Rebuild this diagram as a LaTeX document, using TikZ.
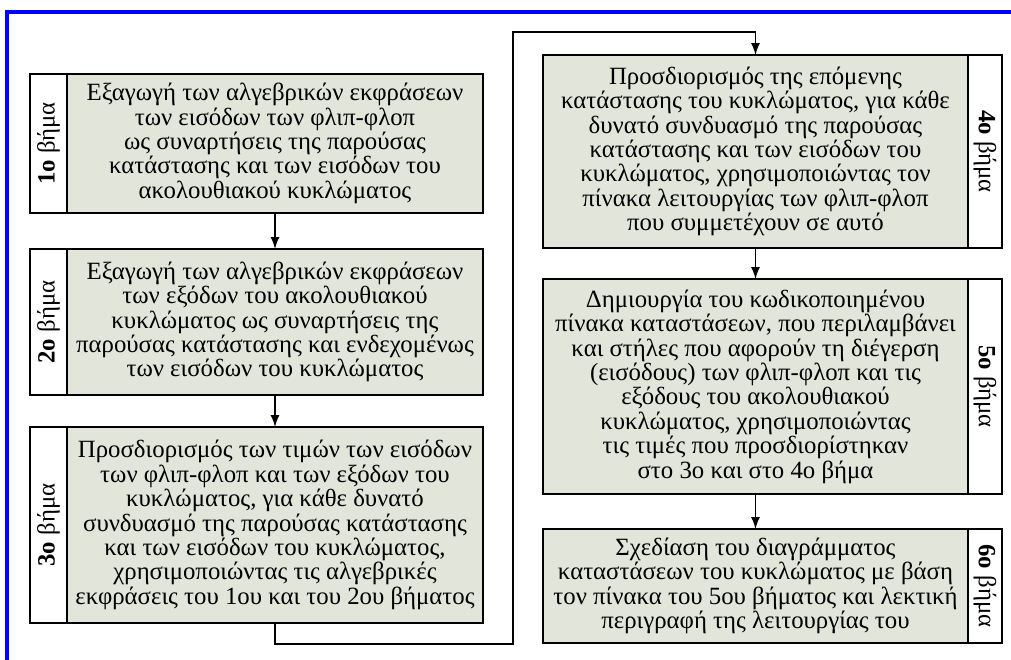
\documentclass[tikz,border=0pt]{standalone}
\usepackage{fontspec}
\setmainfont{Liberation Serif}
\usetikzlibrary{arrows.meta}
\definecolor{stepfill}{RGB}{226,229,218}

\begin{document}
\begin{tikzpicture}[x=0.5pt, y=-0.5pt, every node/.style={font=\fontsize{12.4}{12.2}\selectfont},
  txtbox/.style={draw, line width=1.2pt, fill=stepfill, align=center, inner sep=0pt, outer sep=0pt, minimum width=208pt},
  lblbox/.style={draw, line width=1.2pt, fill=white, inner sep=0pt, outer sep=0pt},
  conn/.style={line width=0.7pt, -{Latex[length=6pt,width=4.5pt]}}]
\useasboundingbox (0,0) rectangle (1011,659);
\draw[blue, line width=2pt] (6.5,720) -- (6.5,12) -- (1080,12);
% left column
\node[txtbox, minimum height=69.5pt] (t1) at (275,143.5) {Εξαγωγή των αλγεβρικών εκφράσεων\\των εισόδων των φλιπ-φλοπ\\ως συναρτήσεις της παρούσας\\κατάστασης και των εισόδων του\\ακολουθιακού κυκλώματος};
\node[lblbox, rotate=90, minimum width=69.5pt, minimum height=18.5pt] (l1) at (48.5,143.5) {\textbf{1ο} βήμα};
\node[txtbox, minimum height=73pt] (t2) at (275,322) {Εξαγωγή των αλγεβρικών εκφράσεων\\των εξόδων του ακολουθιακού\\κυκλώματος ως συναρτήσεις της\\παρούσας κατάστασης και ενδεχομένως\\των εισόδων του κυκλώματος};
\node[lblbox, rotate=90, minimum width=73pt, minimum height=18.5pt] (l2) at (48.5,322) {\textbf{2ο} βήμα};
\node[txtbox, minimum height=98pt] (t3) at (275,525) {Προσδιορισμός των τιμών των εισόδων\\των φλιπ-φλοπ και των εξόδων του\\κυκλώματος, για κάθε δυνατό\\συνδυασμό της παρούσας κατάστασης\\και των εισόδων του κυκλώματος,\\χρησιμοποιώντας τις αλγεβρικές\\εκφράσεις του 1ου και του 2ου βήματος};
\node[lblbox, rotate=90, minimum width=98pt, minimum height=18.5pt] (l3) at (48.5,525) {\textbf{3ο} βήμα};
% right column
\node[txtbox, minimum width=212.5pt, minimum height=96.5pt] (t4) at (755.5,151.5) {Προσδιορισμός της επόμενης\\κατάστασης του κυκλώματος, για κάθε\\δυνατό συνδυασμό της παρούσας\\κατάστασης και των εισόδων του\\κυκλώματος, χρησιμοποιώντας τον\\πίνακα λειτουργίας των φλιπ-φλοπ\\που συμμετέχουν σε αυτό};
\node[lblbox, rotate=-90, minimum width=96.5pt, minimum height=17pt] (l4) at (985,151.5) {\textbf{4ο} βήμα};
\node[txtbox, minimum width=212.5pt, minimum height=107.5pt] (t5) at (755.5,386.5) {Δημιουργία του κωδικοποιημένου\\πίνακα καταστάσεων, που περιλαμβάνει\\και στήλες που αφορούν τη διέγερση\\(εισόδους) των φλιπ-φλοπ και τις\\εξόδους του ακολουθιακού\\κυκλώματος, χρησιμοποιώντας\\τις τιμές που προσδιορίστηκαν\\στο 3ο και στο 4ο βήμα};
\node[lblbox, rotate=-90, minimum width=107.5pt, minimum height=17pt] (l5) at (985,386.5) {\textbf{5ο} βήμα};
\node[txtbox, minimum width=212.5pt, minimum height=57pt] (t6) at (755.5,586) {Σχεδίαση του διαγράμματος\\καταστάσεων του κυκλώματος με βάση\\τον πίνακα του 5ου βήματος και λεκτική\\περιγραφή της λειτουργίας του};
\node[lblbox, rotate=-90, minimum width=57pt, minimum height=17pt] (l6) at (985,586) {\textbf{6ο} βήμα};
% connectors
\coordinate (c1) at (513,644);
\coordinate (c2) at (513,32);
\draw[conn] (t1.south) -- (t2.north);
\draw[conn] (t2.south) -- (t3.north);
\draw[conn] (t3.south) |- (c1) -- (c2) -| (t4.north);
\draw[conn] (t4.south) -- (t5.north);
\draw[conn] (t5.south) -- (t6.north);
\end{tikzpicture}
\end{document}
